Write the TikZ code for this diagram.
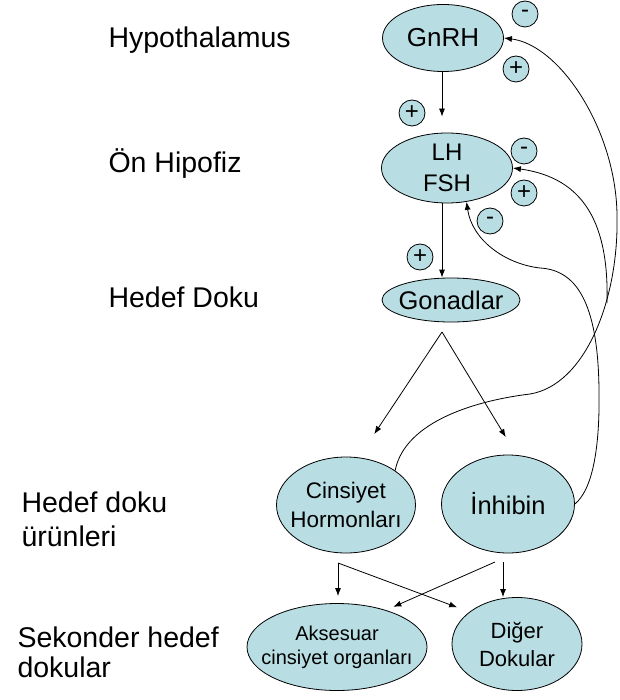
\documentclass[tikz,border=0pt]{standalone}
\usepackage{fontspec}
\setmainfont{Liberation Sans}
\usepackage{tikz}
\usetikzlibrary{shapes.geometric,arrows.meta}
\definecolor{hormfill}{RGB}{184,222,227}

\begin{document}
\begin{tikzpicture}[x=1pt,y=-1pt,
  organ/.style={ellipse,draw,fill=hormfill,line width=0.8pt,inner sep=-20pt,align=center},
  sgn/.style={circle,draw,fill=hormfill,line width=0.8pt,inner sep=0pt,minimum size=26pt,font=\fontsize{24}{24}\selectfont},
  tier/.style={font=\fontsize{28.5}{34}\selectfont,align=left},
  arr/.style={line width=0.8pt,-{Latex[length=8pt,width=6pt]}}]
\useasboundingbox (0,0) rectangle (619,700);

% levels on the left
\node[tier,anchor=base west] (hypo) at (105,48) {Hypothalamus};
\node[tier,anchor=base west] (onhip) at (105,173) {Ön Hipofiz};
\node[tier,anchor=base west] (hedef) at (105,307) {Hedef Doku};
\node[tier,anchor=west] (urun) at (18,519) {Hedef doku\\ürünleri};
\node[tier,anchor=west,font=\fontsize{28.5}{30}\selectfont] (sekonder) at (14,652) {Sekonder hedef\\dokular};

% hormones
\node[organ,minimum width=121pt,minimum height=67pt,font=\fontsize{26}{28}\selectfont] (gnrh) at (443,38) {GnRH};
\node[organ,minimum width=131pt,minimum height=70pt,font=\fontsize{24}{31}\selectfont] (lh) at (447,168) {LH\\FSH};
\node[organ,minimum width=138pt,minimum height=44pt,font=\fontsize{25.5}{27}\selectfont] (gonad) at (451,300) {Gonadlar};
\node[organ,minimum width=139pt,minimum height=96pt,font=\fontsize{22.5}{29}\selectfont] (hormon) at (346,505) {Cinsiyet\\Hormonları};
\node[organ,minimum width=133pt,minimum height=98pt,font=\fontsize{25.5}{27}\selectfont] (inhibin) at (508,504) {İnhibin};
\node[organ,minimum width=180pt,minimum height=87pt,font=\fontsize{20}{24}\selectfont] (aksesuar) at (337,647) {Aksesuar\\cinsiyet organları};
\node[organ,minimum width=130pt,minimum height=93pt,font=\fontsize{22}{28}\selectfont] (diger) at (517,644) {Diğer\\Dokular};

% signs
\node[sgn] (m1) at (525,14) {-};
\node[sgn] (p1) at (516,69) {+};
\node[sgn] (p2) at (412,113) {+};
\node[sgn] (m2) at (524,151) {-};
\node[sgn] (p3) at (524,193) {+};
\node[sgn] (m3) at (490,221) {-};
\node[sgn] (p4) at (420,257) {+};

\coordinate (split) at (442,332);
\coordinate (hormOut) at (338,563);
\coordinate (inhOut) at (503,562);
\coordinate (fbEnd) at (607,303);

% axis
\draw[arr,shorten >=16pt] (gnrh.south -| split) -- (lh.north -| split);
\draw[arr] (lh.south -| split) -- (gonad.north -| split);
\draw[arr,shorten >=28pt] (split) -- (hormon.75);
\draw[arr,shorten >=21pt] (split) -- (inhibin.80);
\draw[arr,shorten >=7pt] (hormOut) -- (hormOut |- aksesuar.north);
\draw[arr,shorten >=13pt] (hormOut) -- (diger.146);
\draw[arr] (inhOut) -- (inhOut |- diger.north);
\draw[arr,shorten >=8pt] ([xshift=-8pt]inhOut) -- (aksesuar.37);

% feedback
\draw[arr] (hormon.35) .. controls (405,420) and (480,400) .. (530,394)
  .. controls (585,385) and (619,300) .. (617,215)
  .. controls (616,130) and (560,45) .. (gnrh.east);
\draw[arr] (fbEnd) .. controls (609,225) and (585,178) .. (lh.east);
\draw[arr] (inhibin.east) .. controls (592,490) and (600,450) .. (599,390)
  .. controls (598,300) and (575,270) .. (540,268)
  .. controls (505,264) and (472,240) .. (lh.-60);
\end{tikzpicture}
\end{document}
